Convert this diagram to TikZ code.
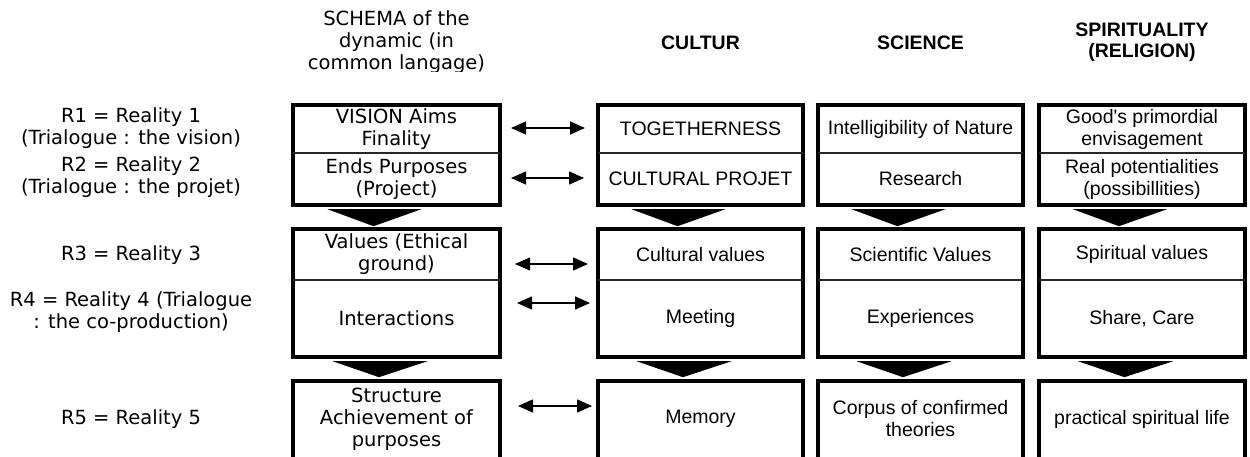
\documentclass[tikz,border=0pt]{standalone}
\usepackage{fontspec}
\setmainfont{Liberation Sans}
\newfontfamily\verd{DejaVu Sans}
\usetikzlibrary{arrows.meta,calc}
\begin{document}
\begin{tikzpicture}[x=1pt,y=-1pt,
  cellA/.style={inner sep=0pt, align=center, font=\fontsize{19.5}{22}\selectfont},
  cellV/.style={inner sep=0pt, align=center, font=\verd\fontsize{19.5}{22}\selectfont},
  lab/.style={inner sep=0pt, align=center, font=\verd\fontsize{19.5}{22}\selectfont},
  head/.style={inner sep=0pt, align=center, font=\bfseries\fontsize{19.5}{21}\selectfont},
  colS/.style={minimum width=207pt},
  colC/.style={minimum width=205pt},
  colK/.style={minimum width=205pt},
  colP/.style={minimum width=206pt},
  rowa/.style={minimum height=48pt},
  rowb/.style={minimum height=52pt},
  rowc/.style={minimum height=51pt},
  rowd/.style={minimum height=77pt},
  rowe/.style={minimum height=76pt},
  frame/.style={line width=4pt},
  divline/.style={line width=1.6pt, black!85},
  chev/.style={fill=black},
  dbl/.style={line width=1.5pt, {Triangle[length=15pt,width=13pt]}-{Triangle[length=15pt,width=13pt]}}
]
\clip (0,0) rectangle (1250,457);
\fill[white] (0,0) rectangle (1250,457);

% headers
\begin{scope}
  \clip (270,0) rectangle (525,72);
  \node[lab] (hsch) at (396.5,42) {SCHEMA of the\\dynamic (in\\common langage)};
\end{scope}
\node[head] (hcul) at (700.5,43) {CULTUR};
\node[head] (hsci) at (920.5,43) {SCIENCE};
\node[head] (hspi) at (1142,42) {SPIRITUALITY\\(RELIGION)};

% left labels
\node[lab] (r1) at (131,128) {R1 = Reality 1\\(Trialogue : the vision)};
\node[lab] (r2) at (131,177) {R2 = Reality 2\\(Trialogue : the projet)};
\node[lab] (r3) at (131,255) {R3 = Reality 3};
\node[lab] (r4) at (131,312) {R4 = Reality 4 (Trialogue\\: the co-production)};
\node[lab] (r5) at (131,419) {R5 = Reality 5};

% schema column
\node[cellV,colS,rowa] (s1) at (396.5,129) {VISION Aims\\Finality};
\node[cellV,colS,rowb] (s2) at (396.5,179) {Ends Purposes\\(Project)};
\node[cellV,colS,rowc] (s3) at (396.5,254.5) {Values (Ethical\\ground)};
\node[cellV,colS,rowd] (s4) at (396.5,318.5) {Interactions};
\node[cellV,colS,rowe] (s5) at (396.5,419) {Structure\\Achievement of\\purposes};

% culture column
\node[cellA,colC,rowa] (c1) at (700.5,129) {TOGETHERNESS};
\node[cellA,colC,rowb] (c2) at (700.5,179) {CULTURAL PROJET};
\node[cellA,colC,rowc] (c3) at (700.5,254.5) {Cultural values};
\node[cellA,colC,rowd] (c4) at (700.5,318.5) {Meeting};
\node[cellA,colC,rowe] (c5) at (700.5,419) {Memory};

% science column
\node[cellA,colK,rowa] (k1) at (920.5,129) {Intelligibility of Nature};
\node[cellA,colK,rowb] (k2) at (920.5,179) {Research};
\node[cellA,colK,rowc] (k3) at (920.5,254.5) {Scientific Values};
\node[cellA,colK,rowd] (k4) at (920.5,318.5) {Experiences};
\node[cellA,colK,rowe] (k5) at (920.5,419) {Corpus of confirmed\\theories};

% spirituality column
\node[cellA,colP,rowa] (p1) at (1142,129) {Good\textquotesingle s primordial\\envisagement};
\node[cellA,colP,rowb] (p2) at (1142,179) {Real potentialities\\(possibillities)};
\node[cellA,colP,rowc] (p3) at (1142,254.5) {Spiritual values};
\node[cellA,colP,rowd] (p4) at (1142,318.5) {Share, Care};
\node[cellA,colP,rowe] (p5) at (1142,419) {practical spiritual life};

% frames and dividers
\foreach \n in {s,c,k,p} {
  \draw[frame] (\n1.north west) rectangle (\n2.south east);
  \draw[divline] (\n1.south west) -- (\n1.south east);
  \draw[frame] (\n3.north west) rectangle (\n4.south east);
  \draw[divline] (\n3.south west) -- (\n3.south east);
  \draw[frame] ($(\n5.south west)+(0,12)$) -- (\n5.north west) -- (\n5.north east) -- ($(\n5.south east)+(0,12)$);
  \fill[chev] ($(\n2.south)+(-69,4)$) -- ($(\n2.south)+(25,4)$) -- ($(\n2.south)+(-23,21)$) -- cycle;
  \fill[chev] ($(\n4.south)+(-64,4)$) -- ($(\n4.south)+(31,4)$) -- ($(\n4.south)+(-17.5,20)$) -- cycle;
}

% double arrows
\coordinate (a1l) at (511,128); \coordinate (a1r) at (585,128);
\coordinate (a2l) at (511,178); \coordinate (a2r) at (584,178);
\coordinate (a3l) at (515,264); \coordinate (a3r) at (588,264);
\coordinate (a4l) at (517,303); \coordinate (a4r) at (590,303);
\coordinate (a5l) at (518,406); \coordinate (a5r) at (592,406);
\foreach \i in {1,...,5} { \draw[dbl] (a\i l) -- (a\i r); }
\end{tikzpicture}
\end{document}
